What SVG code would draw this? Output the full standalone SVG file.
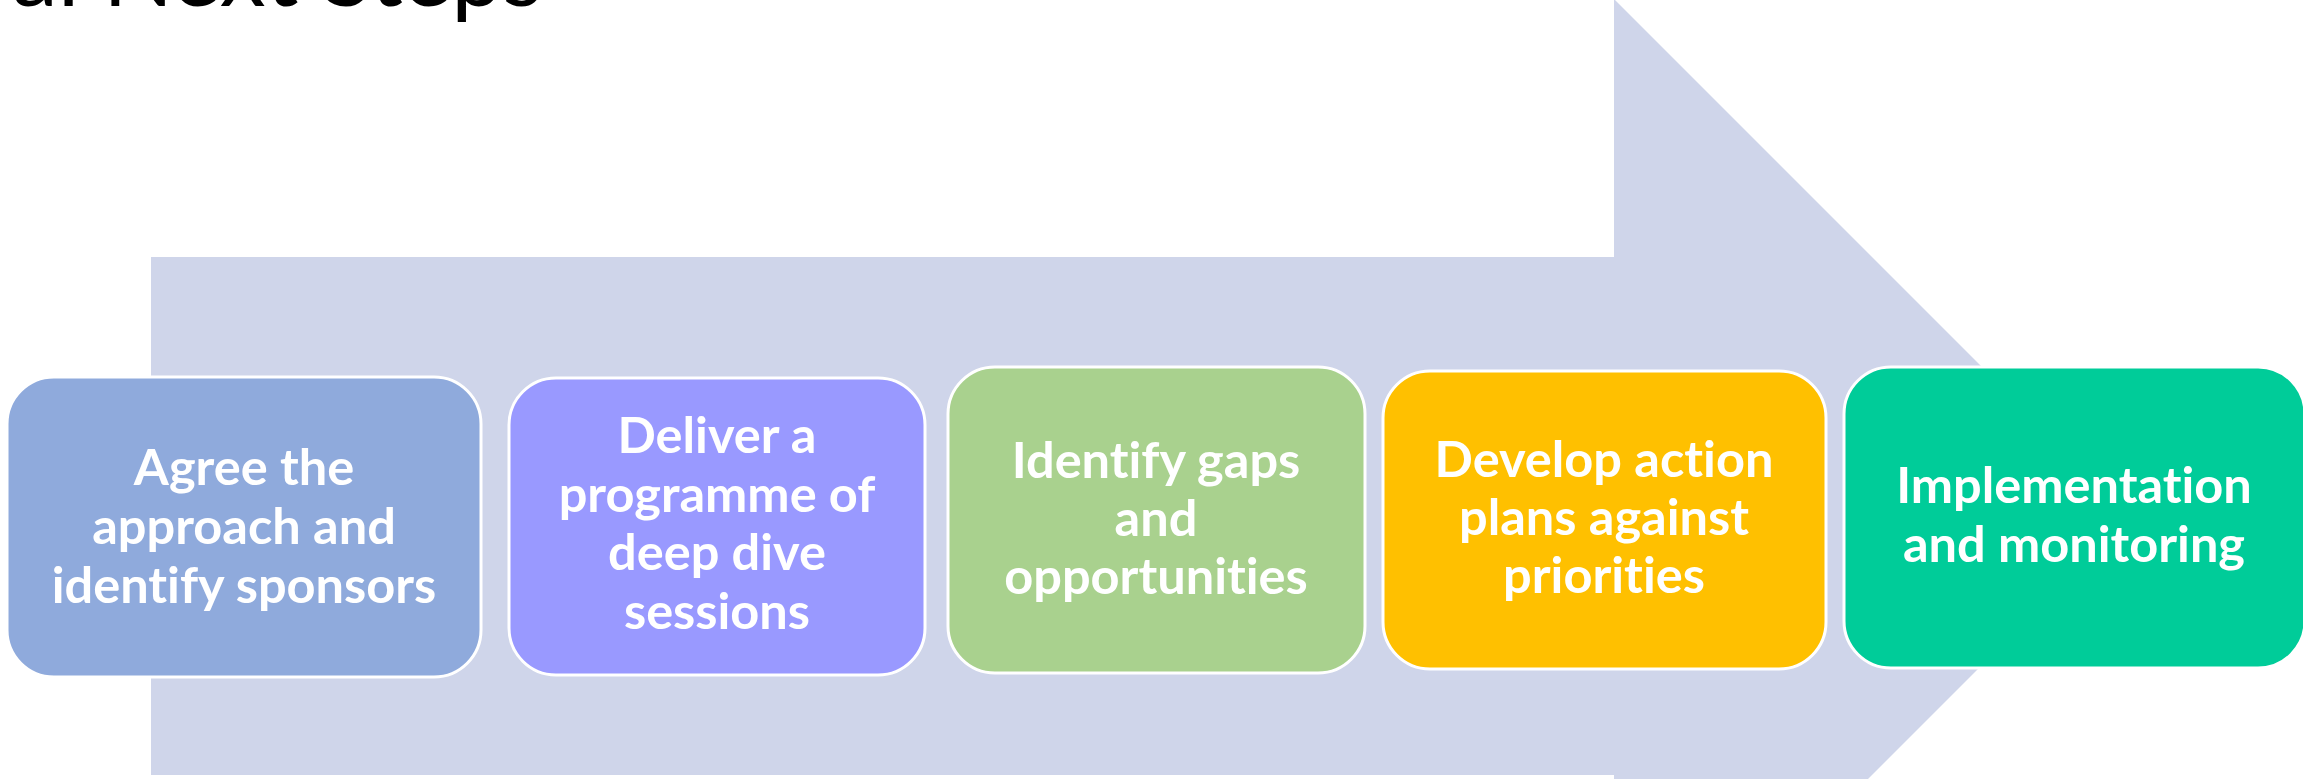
<svg xmlns="http://www.w3.org/2000/svg" width="2303" height="779" viewBox="0 0 2303 779">
<style>
.box{stroke:#FFFFFF;stroke-width:3}
.lbl{font-family:Lato,"Open Sans","Liberation Sans",sans-serif;font-weight:700;font-size:50.5px;fill:#FFFFFF;text-anchor:middle;font-variant-ligatures:none}
.title{font-family:Lato,"Liberation Sans",sans-serif;font-weight:400;font-size:92px;fill:#000000;font-variant-ligatures:none}
</style>
<rect x="0" y="0" width="2303" height="779" fill="#FFFFFF"/>
<text class="title" x="12" y="6">al Next Steps</text>
<g id="background-arrow">
<polygon points="151,257 1614,257 1614,-1 2131,516 1614,1033 1614,775 151,775" fill="#CFD5EA"/>
</g>
<g id="connectors"></g>
<g id="step1">
<rect class="box" x="7" y="377" width="474" height="300" rx="47" ry="47" fill="#8FAADC"/>
<text class="lbl" x="244" y="485">Agree the</text>
<text class="lbl" x="244" y="544">approach and</text>
<text class="lbl" x="244" y="603">identify sponsors</text>
</g>
<g id="step2">
<rect class="box" x="509" y="378" width="416" height="297" rx="47" ry="47" fill="#9999FF"/>
<text class="lbl" x="717" y="453">Deliver a</text>
<text class="lbl" x="717" y="512">programme of</text>
<text class="lbl" x="717" y="570">deep dive</text>
<text class="lbl" x="717" y="629">sessions</text>
</g>
<g id="step3">
<rect class="box" x="948" y="367" width="417" height="306" rx="47" ry="47" fill="#A9D18E"/>
<text class="lbl" x="1156" y="478">Identify gaps</text>
<text class="lbl" x="1156" y="536">and</text>
<text class="lbl" x="1156" y="594">opportunities</text>
</g>
<g id="step4">
<rect class="box" x="1383" y="371" width="443" height="298" rx="47" ry="47" fill="#FFC000"/>
<text class="lbl" x="1604" y="477">Develop action</text>
<text class="lbl" x="1604" y="535">plans against</text>
<text class="lbl" x="1604" y="593">priorities</text>
</g>
<g id="step5">
<rect class="box" x="1844" y="367" width="461" height="301" rx="47" ry="47" fill="#00CC99"/>
<text class="lbl" x="2074" y="503">Implementation</text>
<text class="lbl" x="2074" y="562">and monitoring</text>
</g>
</svg>
